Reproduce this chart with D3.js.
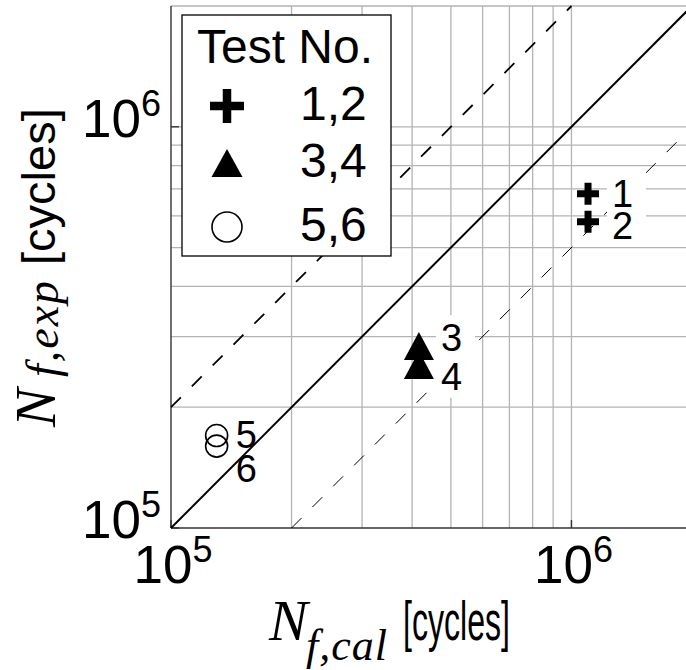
<!DOCTYPE html>
<html>
<head>
<meta charset="utf-8">
<script src="https://cdn.jsdelivr.net/npm/d3@7"></script>
<style>
body { margin: 0; background: #fff; }
svg { display: block; }
text { font-family: 'Liberation Sans', Arial, sans-serif; fill: #000; }
.serif { font-family: 'Liberation Serif', 'Times New Roman', serif; font-style: italic; }
</style>
</head>
<body>
<script>
// values
const testNo = ['1', '2', '3', '4', '5', '6']
const nCal = [1.10e6, 1.10e6, 4.16e5, 4.16e5, 1.30e5, 1.30e5]
const nExp = [6.81e5, 5.80e5, 2.84e5, 2.55e5, 1.70e5, 1.60e5]
const symbol = ['plus', 'plus', 'triangle', 'triangle', 'circle', 'circle']
const legendLabels = ['1,2', '3,4', '5,6']
const legendSymbols = ['plus', 'triangle', 'circle']
const tickValues = [1e5, 1e6]
const tickExp = ['5', '6']
// N_exp = factor * N_cal reference lines
const bandFactors = [1, 2, 0.5]

// layout
const m = { width: 686, height: 670, left: 171, bottom: 528, right: 692, top: 6 }
const domain = [1e5, 2e6]

// label placement (offset from marker centre, px)
const labelDx = [24, 24, 22, 22, 19, 19]
const labelDy = [13, 17, 5, 25, 12, 36]
const labelBox = [true, true, true, true, false, false]

const svg = d3.select('body').append('svg')
    .attr('width', m.width)
    .attr('height', m.height)

const x = d3.scaleLog().domain(domain).range([m.left, m.right])
const y = d3.scaleLog().domain(domain).range([m.bottom, m.top])

// grid
const grid = svg.append('g')
    .attr('stroke', '#b3b3b3')
    .attr('stroke-width', 1.3)
grid.selectAll('.vg')
    .data(x.ticks().filter(d => d > domain[0]))
    .join('line')
    .attr('x1', d => x(d)).attr('x2', d => x(d))
    .attr('y1', m.bottom).attr('y2', m.top)
grid.selectAll('.hg')
    .data(y.ticks().filter(d => d > domain[0]))
    .join('line')
    .attr('y1', d => y(d)).attr('y2', d => y(d))
    .attr('x1', m.left).attr('x2', m.right)

// axes lines + inward major ticks
const ax = svg.append('g').attr('stroke', '#333').attr('stroke-width', 1.4)
ax.append('line').attr('x1', m.left).attr('x2', m.left).attr('y1', m.top).attr('y2', m.bottom)
ax.append('line').attr('x1', m.left).attr('x2', m.right).attr('y1', m.bottom).attr('y2', m.bottom)
ax.selectAll('.xt').data(tickValues).join('line')
    .attr('x1', d => x(d)).attr('x2', d => x(d))
    .attr('y1', m.bottom).attr('y2', m.bottom - 8)
ax.selectAll('.yt').data(tickValues).join('line')
    .attr('y1', d => y(d)).attr('y2', d => y(d))
    .attr('x1', m.left).attr('x2', m.left + 8)

// reference lines
const lineStyle = [
    { w: 2, dash: null },
    { w: 1.8, dash: '14,15.5' },
    { w: 1.0, dash: '14,15.5' }
]
svg.append('g').selectAll('line')
    .data(bandFactors)
    .join('line')
    .attr('x1', f => x(Math.max(domain[0], domain[0] / f)))
    .attr('y1', f => y(Math.max(domain[0], domain[0] * f)))
    .attr('x2', f => x(Math.min(domain[1], domain[1] / f)))
    .attr('y2', f => y(Math.min(domain[1], domain[1] * f)))
    .attr('stroke', '#000')
    .attr('stroke-width', (f, i) => lineStyle[i].w)
    .attr('stroke-dasharray', (f, i) => lineStyle[i].dash)

// marker paths
function plusPath(s, t) {
    const a = s / 2, b = t / 2
    return `M${-b},${-a}H${b}V${-b}H${a}V${b}H${b}V${a}H${-b}V${b}H${-a}V${-b}H${-b}Z`
}
function triPath(w, h) {
    return `M0,${-h / 2}L${w / 2},${h / 2}L${-w / 2},${h / 2}Z`
}
function drawMarker(g, type, big) {
    if (type === 'plus') {
        g.append('path').attr('d', big ? plusPath(34, 8.5) : plusPath(22, 7)).attr('fill', '#000')
    } else if (type === 'triangle') {
        g.append('path').attr('d', big ? triPath(31, 28) : triPath(30, 28)).attr('fill', '#000')
    } else {
        g.append('circle').attr('r', big ? 15 : 11)
            .attr('fill', 'none').attr('stroke', '#000').attr('stroke-width', 1.6)
    }
}

// point labels with white boxes
const labels = svg.append('g')
testNo.forEach((t, i) => {
    const lx = x(nCal[i]) + labelDx[i], ly = y(nExp[i]) + labelDy[i]
    if (labelBox[i]) {
        labels.append('rect')
            .attr('x', lx - 5).attr('y', ly - 36)
            .attr('width', 39).attr('height', 44)
            .attr('fill', '#fff')
    }
})
testNo.forEach((t, i) => {
    labels.append('text')
        .attr('x', x(nCal[i]) + labelDx[i])
        .attr('y', y(nExp[i]) + labelDy[i])
        .attr('font-size', 38)
        .text(t)
})

// points
testNo.forEach((t, i) => {
    const g = svg.append('g').attr('transform', `translate(${x(nCal[i])},${y(nExp[i])})`)
    drawMarker(g, symbol[i], false)
})

// tick labels
svg.selectAll('.xl').data(tickValues).join('text')
    .attr('x', d => x(d) + 2)
    .attr('y', 583)
    .attr('text-anchor', 'middle')
    .attr('font-size', 53)
    .call(t => t.append('tspan').text('10'))
    .call(t => t.append('tspan').attr('dy', -21).attr('font-size', 36).text((d, i) => tickExp[i]))

svg.selectAll('.yl').data(tickValues).join('text')
    .attr('x', 161)
    .attr('y', d => y(d) + 10)
    .attr('text-anchor', 'end')
    .attr('font-size', 53)
    .call(t => t.append('tspan').text('10'))
    .call(t => t.append('tspan').attr('dy', -21).attr('font-size', 36).text((d, i) => tickExp[i]))

// axis titles
svg.append('text').attr('class', 'serif').attr('x', 269).attr('y', 640).attr('font-size', 58).text('N')
svg.append('text').attr('class', 'serif').attr('x', 306).attr('y', 660).attr('font-size', 44)
    .attr('letter-spacing', 1).text('f,cal')
svg.append('text').attr('x', 403).attr('y', 640).attr('font-size', 56)
    .attr('textLength', 107).attr('lengthAdjust', 'spacingAndGlyphs').text('[cycles]')

svg.append('text').attr('class', 'serif').attr('transform', 'translate(55,427) rotate(-90)')
    .attr('font-size', 58).text('N')
svg.append('text').attr('class', 'serif').attr('transform', 'translate(58,377) rotate(-90)')
    .attr('font-size', 46).attr('letter-spacing', 2).text('f,exp')
svg.append('text').attr('transform', 'translate(55,265) rotate(-90)')
    .attr('font-size', 47).text('[cycles]')

// legend
const legend = svg.append('g')
legend.append('rect')
    .attr('x', 182).attr('y', 15).attr('width', 209).attr('height', 241)
    .attr('fill', '#fff').attr('stroke', '#000').attr('stroke-width', 1.3)
legend.append('text').attr('x', 197).attr('y', 63).attr('font-size', 48).text('Test No.')
const rowY = [106, 163, 227]
legendLabels.forEach((lab, i) => {
    const g = legend.append('g').attr('transform', `translate(227,${rowY[i]})`)
    drawMarker(g, legendSymbols[i], true)
    legend.append('text').attr('x', 300).attr('y', rowY[i] + 14).attr('font-size', 48).text(lab)
})
</script>
</body>
</html>
